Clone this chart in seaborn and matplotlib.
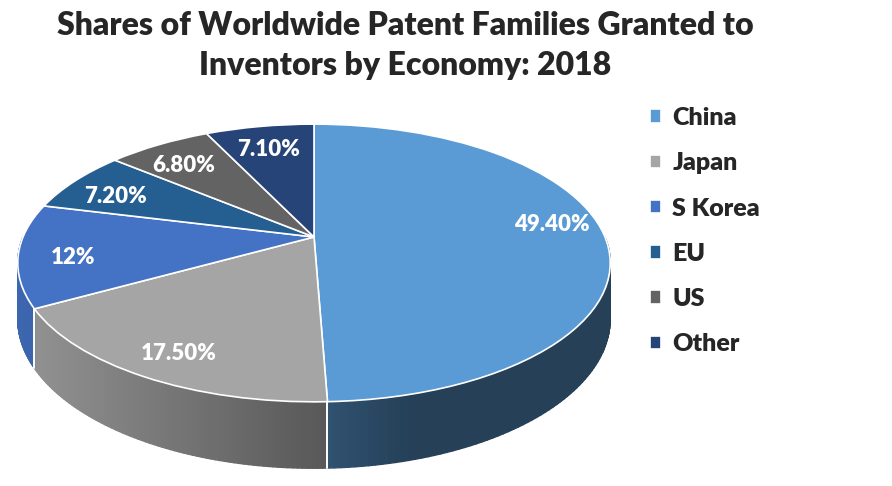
import numpy as np
import matplotlib
matplotlib.use("Agg")
import matplotlib.pyplot as plt
import matplotlib.transforms as mtransforms
from matplotlib.collections import PolyCollection
from matplotlib.colors import to_rgb
import seaborn as sns

economies = ["China", "Japan", "S Korea", "EU", "US", "Other"]
shares = [49.4, 17.5, 12.0, 7.2, 6.8, 7.1]
pct_labels = ["49.40%", "17.50%", "12%", "7.20%", "6.80%", "7.10%"]
colors = ["#5B9BD5", "#A5A5A5", "#4472C4", "#255E91", "#636363", "#264478"]

title = "Shares of Worldwide Patent Families Granted to\nInventors by Economy: 2018"

# pie geometry in pixels: centre, half axes, perspective, wall height
CX, CY = 314, 237
RX, RY, PERSP = 291, 134, 0.187
DEPTH = 54

sns.set_style("white")
plt.rcParams["font.family"] = ["Lato", "DejaVu Sans"]
WEIGHT = "heavy"


class Tilt(mtransforms.Transform):
    # maps the unit pie disc onto a tilted, foreshortened ellipse
    input_dims = output_dims = 2

    def transform_non_affine(self, values):
        v = np.asarray(values, dtype=float).reshape(-1, 2)
        w = 1 + PERSP * v[:, 1]
        return np.column_stack([CX + RX * v[:, 0] / w, CY - RY * v[:, 1] / w])


fig = plt.figure(figsize=(8.92, 4.86), dpi=100)
ax = fig.add_axes([0, 0, 1, 1])
tilt = Tilt()

lbl = iter(pct_labels)
wedges, texts, autotexts = ax.pie(
    shares, colors=colors, startangle=90, counterclock=False,
    autopct=lambda p: next(lbl), pctdistance=0.82,
    wedgeprops=dict(edgecolor="white", linewidth=1.2, zorder=3),
    textprops=dict(color="white", fontsize=16, fontweight=WEIGHT),
)
for w in wedges:
    w.set_transform(tilt + ax.transData)
# labels sit a few pixels lower than the plain projection
nudge = mtransforms.ScaledTranslation(0, -6 / 100, fig.dpi_scale_trans)
for t in autotexts[1:]:
    t.set_transform(tilt + ax.transData + nudge)
    t.set_zorder(5)
# the biggest label sits a little above its slice's middle
autotexts[0].set_transform(tilt + ax.transData)
autotexts[0].set_va("bottom")
autotexts[0].set_zorder(5)

# side walls of the front half
left = CX - RX / np.sqrt(1 - PERSP ** 2)
width = 2 * RX / np.sqrt(1 - PERSP ** 2)
polys, fills = [], []
edges = []
for w, c in zip(wedges, colors):
    base = np.array(to_rgb(c))
    for off in (0, -360, 360):
        lo = max(w.theta1 + off, -180)
        hi = min(w.theta2 + off, 0)
        if hi <= lo:
            continue
        ts = np.radians(np.linspace(lo, hi, 80))
        top = tilt.transform(np.column_stack([np.cos(ts), np.sin(ts)]))
        drop = DEPTH / (1 + PERSP * np.sin(ts))
        bot = top + np.column_stack([np.zeros_like(drop), drop])
        for i in range(len(ts) - 1):
            polys.append([top[i], top[i + 1], bot[i + 1], bot[i]])
            u = ((top[i, 0] + top[i + 1, 0]) / 2 - left) / width
            f = max(0.41, 0.9 - 0.7 * u) if u < 0.53 else max(0.41, 0.52 - 0.8 * (u - 0.53))
            fills.append(base * f)
        for k in (0, -1):
            if -180 < np.degrees(ts[k]) < 0:
                edges.append((top[k], bot[k]))

ax.add_collection(PolyCollection(polys, facecolors=fills, edgecolors=fills,
                                 linewidths=1.0, zorder=1))
for a, b in edges:
    ax.plot([a[0], b[0]], [a[1], b[1]], color="white", lw=1.2, zorder=2)

ax.set_xlim(0, 892)
ax.set_ylim(486, 0)
ax.set_aspect("auto")
ax.axis("off")

fig.text(405 / 892, 1 - 11 / 486, title, ha="center", va="top",
         fontsize=23, fontweight=WEIGHT, linespacing=1.45)

ax.legend(wedges, economies, loc="upper left",
          bbox_to_anchor=(650 / 892, 1 - 107 / 486), frameon=False,
          handlelength=0.45, handleheight=0.45, handletextpad=0.45,
          labelspacing=0.93, borderpad=0, borderaxespad=0,
          prop=dict(size=18, weight=WEIGHT))

fig.savefig("out.png", dpi=100)
